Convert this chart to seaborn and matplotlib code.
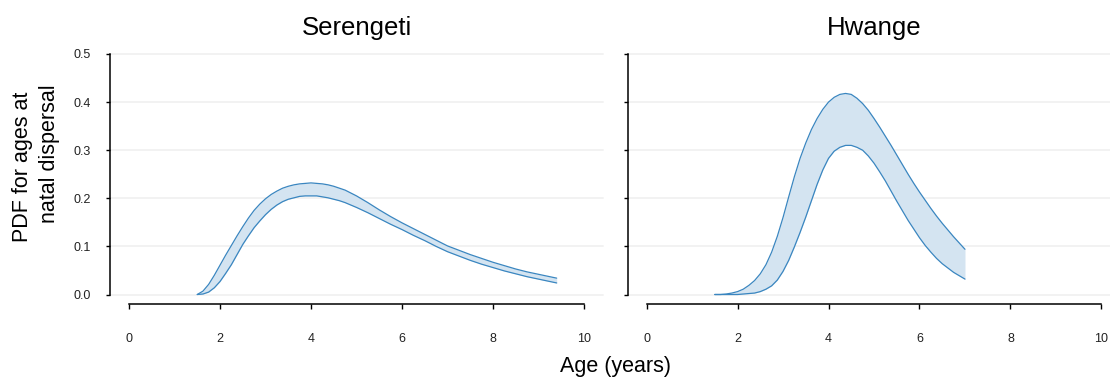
import matplotlib
matplotlib.use("Agg")
import matplotlib.pyplot as plt
import matplotlib.transforms as mtransforms
import pandas as pd
import seaborn as sns

# Credible band of the age-at-dispersal density, per site
sites = ["Serengeti", "Hwange"]

serengeti_age = [1.5, 1.625, 1.75, 1.875, 2.0, 2.125, 2.25, 2.375, 2.5, 2.625, 2.75, 2.875,
                 3.0, 3.125, 3.25, 3.375, 3.5, 3.625, 3.75, 3.875, 4.0, 4.125, 4.25, 4.375,
                 4.5, 4.625, 4.75, 4.875, 5.0, 5.25, 5.5, 5.75, 6.0, 6.25, 6.5, 6.75,
                 7.0, 7.25, 7.5, 7.75, 8.0, 8.25, 8.5, 8.75, 9.0, 9.25, 9.4]
serengeti_upper = [0.000, 0.007, 0.021, 0.040, 0.061, 0.082, 0.102, 0.122, 0.141, 0.159,
                   0.175, 0.188, 0.199, 0.208, 0.215, 0.221, 0.225, 0.228, 0.230, 0.231,
                   0.232, 0.231, 0.230, 0.228, 0.225, 0.221, 0.217, 0.211, 0.205, 0.191,
                   0.176, 0.162, 0.149, 0.137, 0.125, 0.113, 0.101, 0.092, 0.083, 0.075,
                   0.067, 0.060, 0.053, 0.047, 0.042, 0.037, 0.034]
serengeti_lower = [0.000, 0.001, 0.005, 0.014, 0.027, 0.044, 0.062, 0.083, 0.104, 0.122,
                   0.139, 0.153, 0.166, 0.177, 0.186, 0.193, 0.198, 0.201, 0.204, 0.205,
                   0.205, 0.205, 0.203, 0.201, 0.198, 0.195, 0.191, 0.186, 0.181, 0.170,
                   0.158, 0.146, 0.135, 0.123, 0.112, 0.100, 0.089, 0.080, 0.071, 0.063,
                   0.056, 0.049, 0.043, 0.037, 0.032, 0.027, 0.024]

hwange_age = [1.5, 1.625, 1.75, 1.875, 2.0, 2.125, 2.25, 2.375, 2.5, 2.625, 2.75, 2.875,
              3.0, 3.125, 3.25, 3.375, 3.5, 3.625, 3.75, 3.875, 4.0, 4.125, 4.25, 4.375,
              4.5, 4.625, 4.75, 4.875, 5.0, 5.125, 5.25, 5.375, 5.5, 5.625, 5.75, 5.875,
              6.0, 6.125, 6.25, 6.375, 6.5, 6.625, 6.75, 6.875, 7.0]
hwange_upper = [0.000, 0.000, 0.001, 0.003, 0.006, 0.011, 0.019, 0.029, 0.043, 0.062,
                0.088, 0.121, 0.160, 0.203, 0.245, 0.283, 0.315, 0.343, 0.366, 0.385,
                0.400, 0.410, 0.416, 0.418, 0.416, 0.408, 0.397, 0.383, 0.366, 0.348,
                0.329, 0.310, 0.290, 0.270, 0.250, 0.231, 0.213, 0.196, 0.179, 0.163,
                0.148, 0.134, 0.120, 0.107, 0.094]
hwange_lower = [0.000, 0.000, 0.000, 0.000, 0.000, 0.001, 0.002, 0.003, 0.006, 0.011,
                0.018, 0.030, 0.048, 0.071, 0.099, 0.129, 0.161, 0.195, 0.229, 0.259,
                0.283, 0.298, 0.306, 0.310, 0.310, 0.306, 0.300, 0.288, 0.273, 0.255,
                0.236, 0.215, 0.194, 0.174, 0.154, 0.136, 0.118, 0.102, 0.088, 0.075,
                0.064, 0.055, 0.046, 0.039, 0.032]

x_ticks = [0, 2, 4, 6, 8, 10]
y_ticks = [0.0, 0.1, 0.2, 0.3, 0.4, 0.5]

x_label = "Age (years)"
y_label_lines = ["PDF for ages at", "natal dispersal"]

LINE = "#3a86c0"
FILL = "#d4e4f1"
GRID = "#f1f1f1"

sns.set_theme(style="white")
plt.rcParams["font.family"] = ["Liberation Sans", "DejaVu Sans"]

W, H = 1110, 382
fig = plt.figure(figsize=(W / 100, H / 100), dpi=100)


def axes_px(left, top, right, bottom):
    return fig.add_axes([left / W, 1 - bottom / H, (right - left) / W, (bottom - top) / H])


ylim = (-0.003, 0.503)
xlim = (-0.418, 10.418)
px_per_y = 481.0
top_px = 54 - (ylim[1] - 0.5) * px_per_y
bot_px = 294.5 + (0 - ylim[0]) * px_per_y

ax_left = axes_px(110, top_px, 603, bot_px)
ax_right = axes_px(627.5, top_px, 1120.5, bot_px)

frames = [
    pd.DataFrame({"age": serengeti_age, "upper": serengeti_upper, "lower": serengeti_lower}),
    pd.DataFrame({"age": hwange_age, "upper": hwange_upper, "lower": hwange_lower}),
]

for ax, site, df, show_ylabels in zip([ax_left, ax_right], sites, frames, [True, False]):
    ax.fill_between(df["age"], df["lower"], df["upper"], color=FILL, linewidth=0, zorder=2)
    sns.lineplot(data=df, x="age", y="upper", ax=ax, color=LINE, linewidth=0.9, zorder=3)
    sns.lineplot(data=df, x="age", y="lower", ax=ax, color=LINE, linewidth=0.9, zorder=3)

    ax.set_xlim(*xlim)
    ax.set_ylim(*ylim)
    ax.set_xticks(x_ticks)
    ax.set_yticks(y_ticks)
    ax.set_xticklabels([str(t) for t in x_ticks])
    if show_ylabels:
        ax.set_yticklabels([f"{t:.1f}" for t in y_ticks])
    else:
        ax.set_yticklabels([])
    ax.set_xlabel("")
    ax.set_ylabel("")

    ax.grid(False)
    for yv in y_ticks:
        ax.axhline(yv, color=GRID, linewidth=1.3, zorder=0, clip_on=False)

    ax.tick_params(axis="x", direction="out", length=3.8, width=1.0, color="black",
                   labelsize=9, pad=17, bottom=True, labelcolor="#222222")
    ax.tick_params(axis="y", direction="out", length=3.0, width=1.0, color="black",
                   labelsize=9, pad=11, left=True, labelcolor="#222222")

    sns.despine(ax=ax, offset={"bottom": 6, "left": 0}, trim=True)
    for side in ["bottom", "left"]:
        ax.spines[side].set_color("black")
        ax.spines[side].set_linewidth(1.1)

    # panel title centred over the age range
    trans = mtransforms.blended_transform_factory(ax.transData, fig.transFigure)
    ax.text((x_ticks[0] + x_ticks[-1]) / 2, 1 - 35 / H, site, transform=trans,
            ha="center", va="baseline", fontsize=18.5, color="black")

# shared x label centred across both age axes
fig.canvas.draw()
x0 = ax_left.transData.transform((x_ticks[0], 0))[0]
x1 = ax_right.transData.transform((x_ticks[-1], 0))[0]
fig.text((x0 + x1) / 2 / W, 1 - 372 / H, x_label, ha="center", va="baseline",
         fontsize=15.5, color="black")

# two-line y label
fig.text(28.3 / W, 1 - 167 / H, y_label_lines[0], rotation=90, rotation_mode="anchor",
         ha="center", va="baseline", fontsize=15.5, color="black")
fig.text(55 / W, 1 - 153.7 / H, y_label_lines[1], rotation=90, rotation_mode="anchor",
         ha="center", va="baseline", fontsize=15.5, color="black")

fig.savefig("out.png", dpi=100)
